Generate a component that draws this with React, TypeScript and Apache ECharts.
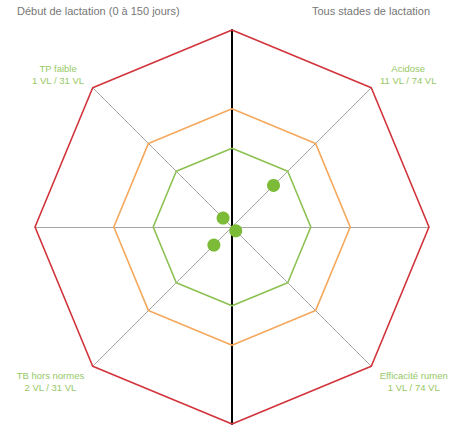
import React, { useEffect, useRef } from "react";
import * as echarts from "echarts";

const leftTitle = "Début de lactation (0 à 150 jours)";
const rightTitle = "Tous stades de lactation";

// 8 radar axes, starting at top, going counter-clockwise
const axisNames = ["", "TP faible", "", "TB hors normes", "", "Efficacité rumen", "", "Acidose"];
const axisCounts = ["", "1 VL / 31 VL", "", "2 VL / 31 VL", "", "1 VL / 74 VL", "", "11 VL / 74 VL"];
// percentage of cows per indicator (null = no indicator on that axis)
const percents: (number | null)[] = [null, 3.2, null, 6.5, null, 1.35, null, 14.9];

const axisMax = 50;
const ringLevels = [20, 30, 50];
const ringColors = ["#8cc152", "#f5a85c", "#d2333b"];

const FONT = 'Arial, "Liberation Sans", sans-serif';
const LABEL_GREEN = "#96c866";

export default function App() {
  const ref = useRef<HTMLDivElement>(null);
  useEffect(() => {
    document.body.style.margin = "0";
    const chart = echarts.init(ref.current!, null, { renderer: "svg" });
    const center = [232, 227];
    const radius = 197;
    const n = axisNames.length;
    const indicator = axisNames.map((name) => ({ name, min: 0, max: axisMax }));
    const ringSeriesData = ringLevels.map((lvl, i) => ({
      value: axisNames.map(() => lvl),
      lineStyle: { color: ringColors[i], width: 1.6 },
    }));
    const scatterData: number[][] = [];
    percents.forEach((p, i) => {
      if (p !== null) scatterData.push([p, i * (360 / n)]);
    });
    const tok = { align: "center", color: LABEL_GREEN, fontSize: 9.5, lineHeight: 12, fontFamily: FONT };
    chart.setOption({
      animation: false,
      title: [
        {
          text: leftTitle,
          left: 17,
          top: 5,
          padding: 0,
          textStyle: { fontSize: 11, color: "#777", fontWeight: "normal", fontFamily: FONT },
        },
        {
          text: rightTitle,
          right: 21,
          top: 5,
          padding: 0,
          textStyle: { fontSize: 11, color: "#777", fontWeight: "normal", fontFamily: FONT },
        },
      ],
      radar: [
        {
          center,
          radius,
          startAngle: 90,
          shape: "polygon",
          splitNumber: 1,
          indicator,
          nameGap: 12,
          axisName: {
            formatter: (name: string) => {
              const idx = axisNames.indexOf(name);
              if (!name) return "";
              const angle = (idx * 360) / n; // 0 = top, CCW
              const isTop = angle < 90 || angle > 270;
              return isTop
                ? `{a|${name}}\n{a|${axisCounts[idx]}}\n{sp| }`
                : `{sp2| }\n{a|${name}}\n{a|${axisCounts[idx]}}`;
            },
            color: LABEL_GREEN,
            fontSize: 9.5,
            lineHeight: 12,
            fontFamily: FONT,
            rich: {
              a: tok,
              sp: { fontSize: 1, lineHeight: 10 },
              sp2: { fontSize: 1, lineHeight: 14 },
            },
          },
          axisLine: { lineStyle: { color: "#a6a6a6", width: 1 } },
          splitLine: { show: false },
          splitArea: { show: false },
        },
        {
          center,
          radius,
          startAngle: 90,
          shape: "polygon",
          splitNumber: 1,
          indicator: [
            { name: "", min: 0, max: axisMax },
            { name: "", min: 0, max: axisMax },
          ],
          axisName: { show: false },
          axisLine: { lineStyle: { color: "#000", width: 2 } },
          splitLine: { show: false },
          splitArea: { show: false },
        },
      ],
      polar: { center, radius },
      angleAxis: {
        type: "value",
        min: 0,
        max: 360,
        startAngle: 90,
        clockwise: false,
        show: false,
      },
      radiusAxis: { type: "value", min: 0, max: axisMax, show: false },
      series: [
        {
          type: "radar",
          radarIndex: 0,
          symbol: "none",
          silent: true,
          data: ringSeriesData,
          z: 2,
        },
        {
          type: "scatter",
          coordinateSystem: "polar",
          symbolSize: 13,
          itemStyle: { color: "#7cbb38", opacity: 1 },
          data: scatterData,
          z: 5,
        },
      ],
    });
    return () => chart.dispose();
  }, []);
  return <div ref={ref} style={{ width: 451, height: 425 }} />;
}
